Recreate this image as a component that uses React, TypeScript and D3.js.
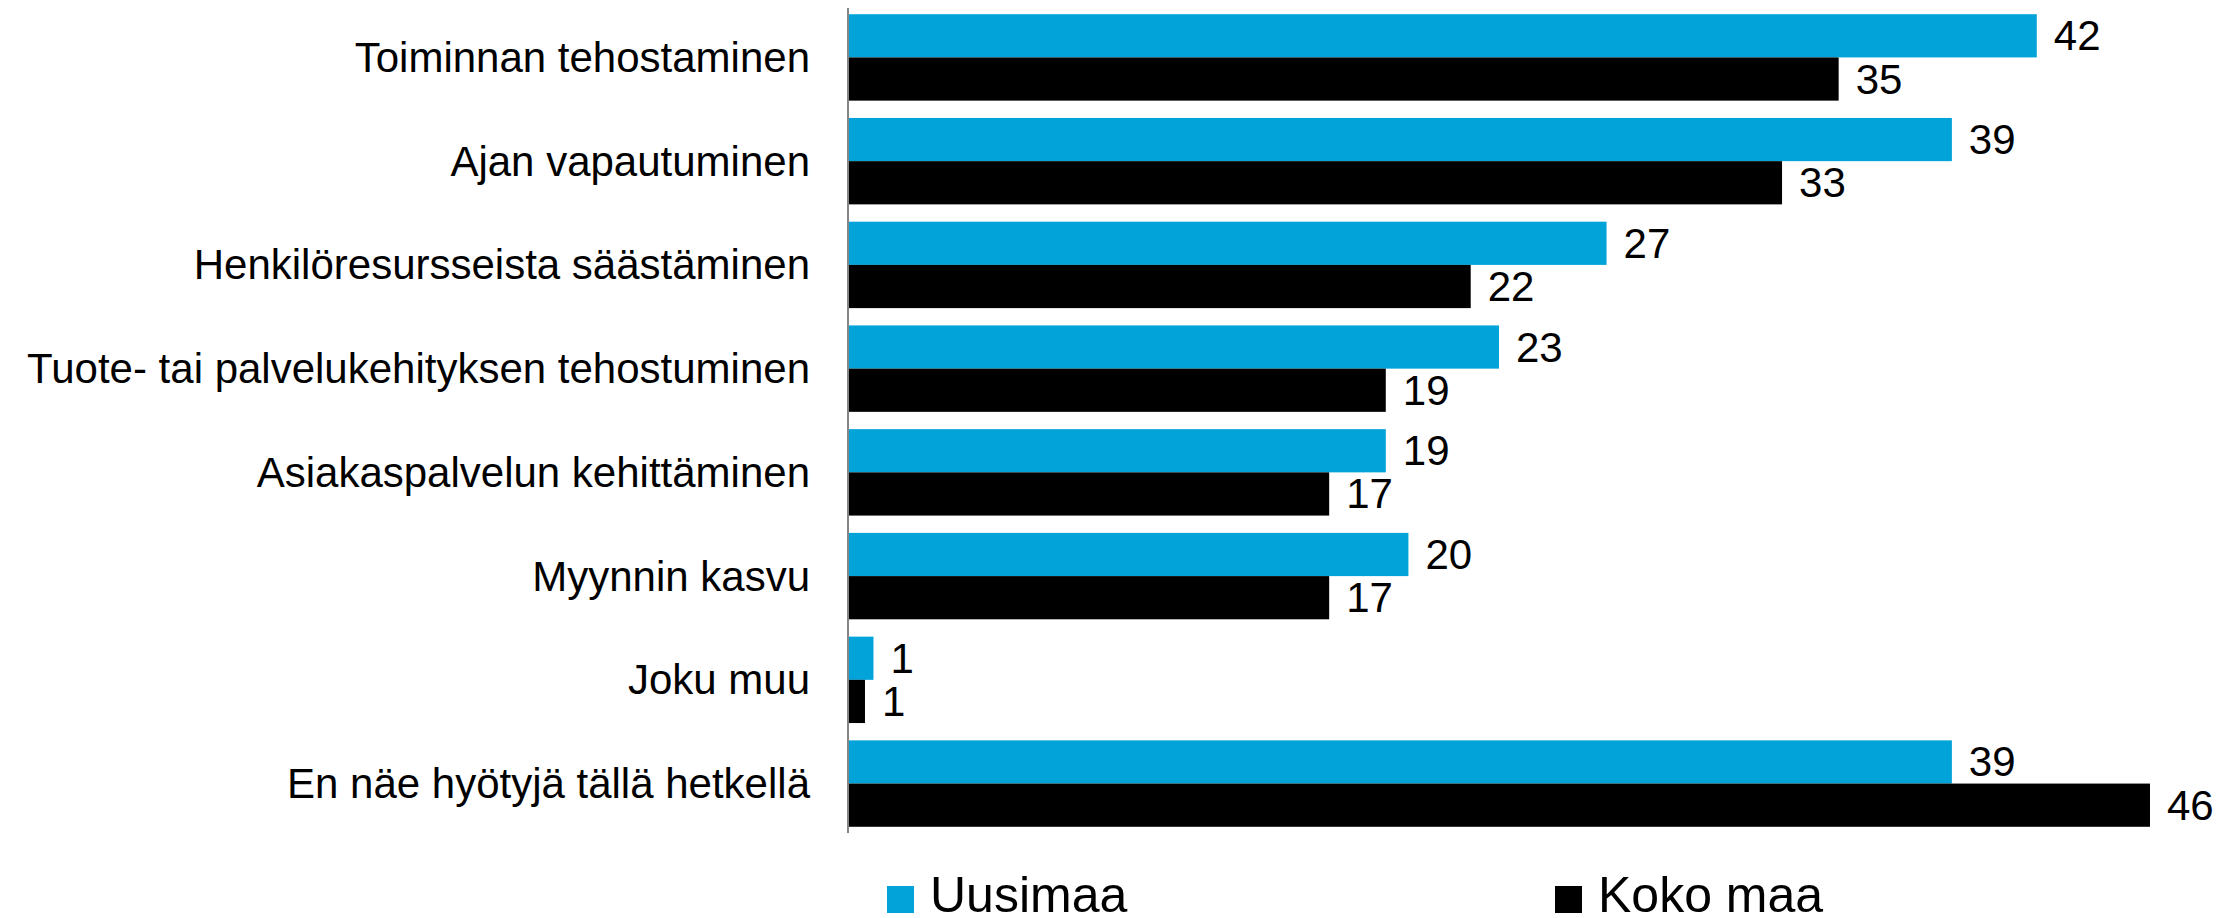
import React, { useEffect } from 'react';
import * as d3 from 'd3';

const categories = [
  'Toiminnan tehostaminen',
  'Ajan vapautuminen',
  'Henkilöresursseista säästäminen',
  'Tuote- tai palvelukehityksen tehostuminen',
  'Asiakaspalvelun kehittäminen',
  'Myynnin kasvu',
  'Joku muu',
  'En näe hyötyjä tällä hetkellä',
];
const seriesNames = ['Uusimaa', 'Koko maa'];
// bar lengths; labels show rounded values
const uusimaa = [42, 39, 26.8, 23, 19, 19.8, 0.9, 39];
const kokoMaa = [35, 33, 22, 19, 17, 17, 0.6, 46];
const colors = ['#02A3D9', '#000000'];

const App = () => {
  useEffect(() => {
    document.body.style.margin = '0';
  }, []);

  const width = 2218;
  const height = 918;
  const font = 'Arial, "Liberation Sans", sans-serif';

  // scales
  const x = d3.scaleLinear().domain([0, 46]).range([848, 2150]);
  const y = d3.scaleBand().domain(categories).range([8, 833]).paddingInner(0.167).paddingOuter(0.06);
  const inner = d3.scaleBand().domain(seriesNames).range([0, y.bandwidth()]);
  const series = [uusimaa, kokoMaa];
  const fmt = d3.format('.0f');

  return (
    <svg width={width} height={height} style={{ display: 'block' }} fontFamily={font}>
      {categories.map((c, i) => (
        <g key={c} transform={`translate(0,${y(c)})`}>
          <text x={810} y={y.bandwidth() / 2} textAnchor="end" dominantBaseline="central" fontSize={42}>
            {c}
          </text>
          {series.map((s, j) => (
            <g key={j}>
              <rect
                x={x(0)}
                y={inner(seriesNames[j])}
                width={x(s[i]) - x(0)}
                height={inner.bandwidth()}
                fill={colors[j]}
              />
              <text
                x={x(s[i]) + 17}
                y={(inner(seriesNames[j]) || 0) + inner.bandwidth() / 2}
                dominantBaseline="central"
                fontSize={42}
              >
                {fmt(Math.max(1, s[i]))}
              </text>
            </g>
          ))}
        </g>
      ))}
      <line x1={x(0)} x2={x(0)} y1={8} y2={833} stroke="#868686" strokeWidth={2} />
      {/* legend */}
      {[887, 1555].map((lx, j) => (
        <g key={j}>
          <rect x={lx} y={886} width={27} height={27} fill={colors[j]} />
          <text x={lx + 43} y={912} fontSize={50}>
            {seriesNames[j]}
          </text>
        </g>
      ))}
    </svg>
  );
};

export default App;
